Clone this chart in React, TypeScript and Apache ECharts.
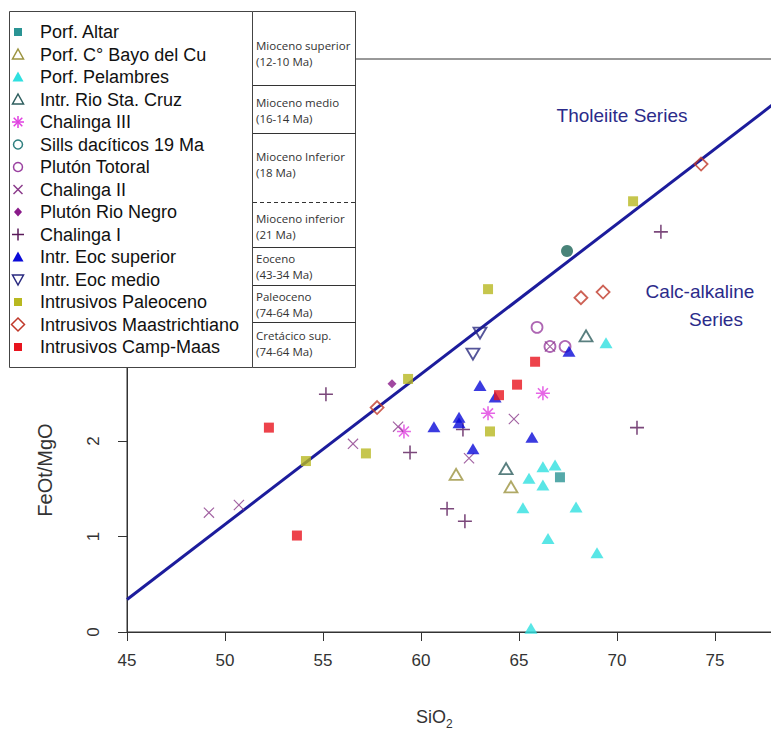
import React, { useEffect, useRef } from "react";
import * as echarts from "echarts";

// ---- data (SiO2 vs FeOt/MgO) ----
const altarX = [67.09];
const altarY = [1.62];
const bayoX = [61.79, 64.59];
const bayoY = [1.65, 1.52];
const pelambresX = [69.44, 66.22, 66.84, 65.51, 66.22, 65.2, 67.91, 66.48, 68.98, 65.61];
const pelambresY = [3.03, 1.73, 1.75, 1.61, 1.54, 1.3, 1.31, 0.98, 0.83, 0.04];
const staCruzX = [68.42, 64.34];
const staCruzY = [3.1, 1.71];
const chalinga3X = [66.22, 63.42, 59.13];
const chalinga3Y = [2.5, 2.29, 2.1];
const sillsX = [67.45];
const sillsY = [3.99];
const totoralX = [65.92, 66.58, 67.35];
const totoralY = [3.19, 2.99, 2.99];
const chalinga2X = [49.18, 50.71, 56.53, 58.83, 62.45, 64.74, 66.58];
const chalinga2Y = [1.25, 1.33, 1.97, 2.15, 1.82, 2.23, 2.99];
const rioNegroX = [58.52];
const rioNegroY = [2.6];
const chalinga1X = [55.15, 59.44, 62.14, 61.33, 62.24, 71.02, 72.24];
const chalinga1Y = [2.49, 1.88, 2.12, 1.29, 1.16, 2.14, 4.19];
const eocSupX = [63.01, 63.78, 60.66, 61.94, 61.94, 65.66, 62.65, 67.55];
const eocSupY = [2.58, 2.46, 2.15, 2.25, 2.19, 2.04, 1.92, 2.94];
const eocMedX = [63.01, 62.65];
const eocMedY = [3.13, 2.91];
const paleocenoX = [70.82, 63.42, 59.34, 57.19, 54.13, 63.52];
const paleocenoY = [4.51, 3.59, 2.65, 1.87, 1.79, 2.1];
const maastX = [74.29, 69.29, 68.16, 57.76];
const maastY = [4.9, 3.56, 3.5, 2.35];
const campMaasX = [52.24, 53.67, 63.98, 64.9, 65.82];
const campMaasY = [2.14, 1.01, 2.48, 2.59, 2.83];

// Tholeiite / calc-alkaline dividing line (end points)
const dividerX = [45, 78.5];
const dividerY = [0.34, 5.61];

const xTicks = [45, 50, 55, 60, 65, 70, 75];
const yTicks = [0, 1, 2, 3, 4, 5, 6];

const legendNames = [
  "Porf. Altar",
  "Porf. C° Bayo del Cu",
  "Porf. Pelambres",
  "Intr. Rio Sta. Cruz",
  "Chalinga III",
  "Sills dacíticos 19 Ma",
  "Plutón Totoral",
  "Chalinga II",
  "Plutón Rio Negro",
  "Chalinga I",
  "Intr. Eoc superior",
  "Intr. Eoc medio",
  "Intrusivos Paleoceno",
  "Intrusivos Maastrichtiano",
  "Intrusivos Camp-Maas",
];

const ageLabels = [
  ["Mioceno superior", "(12-10 Ma)"],
  ["Mioceno medio", "(16-14 Ma)"],
  ["Mioceno Inferior", "(18 Ma)"],
  ["Mioceno inferior", "(21 Ma)"],
  ["Eoceno", "(43-34 Ma)"],
  ["Paleoceno", "(74-64 Ma)"],
  ["Cretácico sup.", "(74-64 Ma)"],
];

const seriesX = [altarX, bayoX, pelambresX, staCruzX, chalinga3X, sillsX, totoralX, chalinga2X, rioNegroX, chalinga1X, eocSupX, eocMedX, paleocenoX, maastX, campMaasX];
const seriesY = [altarY, bayoY, pelambresY, staCruzY, chalinga3Y, sillsY, totoralY, chalinga2Y, rioNegroY, chalinga1Y, eocSupY, eocMedY, paleocenoY, maastY, campMaasY];

// ---- styles ----
const kinds = ["sq", "triO", "triF", "triO", "ast", "circF", "circO", "cross", "diaF", "plus", "triF", "triDownO", "sq", "diaO", "sq"];
const legendKinds = ["sq", "triO", "triF", "triO", "ast", "circO", "circO", "cross", "diaF", "plus", "triF", "triDownO", "sq", "diaO", "sq"];
const colors = ["#2a9494", "#9c9440", "#2fe0e0", "#2f5f5f", "#e040e0", "#1b6458", "#9a40a0", "#8a3a8a", "#8a1a8a", "#5a1a5a", "#0a0ad8", "#2a2a80", "#b8b820", "#c0392b", "#e8141e"];
const legendColors = ["#2a9494", "#9c9440", "#2fe0e0", "#2f5f5f", "#e040e0", "#2f7f7f", "#9a40a0", "#8a3a8a", "#8a1a8a", "#5a1a5a", "#0a0ad8", "#2a2a80", "#b8b820", "#c0392b", "#e8141e"];

const PLUS = "path://M1 9L19 9L19 11L1 11ZM9 1L11 1L11 19L9 19Z";
const AST = "path://M1 9L19 9L19 11L1 11ZM9 1L11 1L11 19L9 19ZM4.31 2.89L17.11 15.69L15.69 17.11L2.89 4.31ZM4.31 17.11L2.89 15.69L15.69 2.89L17.11 4.31Z";
const CROSS = "path://M1.71 0.29L19.71 18.29L18.29 19.71L0.29 1.71ZM1.71 19.71L0.29 18.29L18.29 0.29L19.71 1.71Z";

const FONT = '"Liberation Sans", Arial, sans-serif';
const TFONT = '"Open Sans", "Noto Sans", sans-serif';
const TXT = "#333";

function symbolFor(kind: string, color: string) {
  const open = { color: "rgba(255,255,255,0)", borderColor: color, borderWidth: 1.8 };
  switch (kind) {
    case "sq": return { symbol: "rect", symbolSize: 10, itemStyle: { color } };
    case "triO": return { symbol: "triangle", symbolSize: [13, 11], itemStyle: open };
    case "triF": return { symbol: "triangle", symbolSize: [13, 11], itemStyle: { color } };
    case "triDownO": return { symbol: "triangle", symbolRotate: 180, symbolSize: [13, 11], itemStyle: open };
    case "circO": return { symbol: "circle", symbolSize: 11, itemStyle: open };
    case "circF": return { symbol: "circle", symbolSize: 12, itemStyle: { color } };
    case "ast": return { symbol: AST, symbolSize: 14, itemStyle: { color } };
    case "plus": return { symbol: PLUS, symbolSize: 14, itemStyle: { color } };
    case "cross": return { symbol: CROSS, symbolSize: 11, itemStyle: { color } };
    case "diaF": return { symbol: "diamond", symbolSize: 9, itemStyle: { color } };
    case "diaO": return { symbol: "diamond", symbolSize: 13, itemStyle: open };
  }
  return { symbol: "circle", symbolSize: 10, itemStyle: { color } };
}

function legendSymbol(kind: string, color: string, cx: number, cy: number): any[] {
  const Z = 110;
  const stroke = { fill: "none", stroke: color, lineWidth: 1.5 };
  const ln = (x1: number, y1: number, x2: number, y2: number) => ({
    type: "line", z: Z, shape: { x1: cx + x1, y1: cy + y1, x2: cx + x2, y2: cy + y2 }, style: { stroke: color, lineWidth: 1.5 },
  });
  switch (kind) {
    case "sq": return [{ type: "rect", z: Z, shape: { x: cx - 4, y: cy - 4, width: 8, height: 8 }, style: { fill: color } }];
    case "triO": return [{ type: "polygon", z: Z, shape: { points: [[cx, cy - 5.5], [cx + 5.5, cy + 4.5], [cx - 5.5, cy + 4.5]] }, style: stroke }];
    case "triF": return [{ type: "polygon", z: Z, shape: { points: [[cx, cy - 5.5], [cx + 5.5, cy + 4.5], [cx - 5.5, cy + 4.5]] }, style: { fill: color } }];
    case "triDownO": return [{ type: "polygon", z: Z, shape: { points: [[cx - 5.5, cy - 4.5], [cx + 5.5, cy - 4.5], [cx, cy + 5.5]] }, style: stroke }];
    case "circO": return [{ type: "circle", z: Z, shape: { cx, cy, r: 4.5 }, style: stroke }];
    case "circF": return [{ type: "circle", z: Z, shape: { cx, cy, r: 5 }, style: { fill: color } }];
    case "ast": return [ln(-6, 0, 6, 0), ln(0, -6, 0, 6), ln(-4.3, -4.3, 4.3, 4.3), ln(-4.3, 4.3, 4.3, -4.3)];
    case "plus": return [ln(-6, 0, 6, 0), ln(0, -6, 0, 6)];
    case "cross": return [ln(-4.5, -4.5, 4.5, 4.5), ln(-4.5, 4.5, 4.5, -4.5)];
    case "diaF": return [{ type: "polygon", z: Z, shape: { points: [[cx, cy - 4.5], [cx + 4, cy], [cx, cy + 4.5], [cx - 4, cy]] }, style: { fill: color } }];
    case "diaO": return [{ type: "polygon", z: Z, shape: { points: [[cx, cy - 6.5], [cx + 6.5, cy], [cx, cy + 6.5], [cx - 6.5, cy]] }, style: stroke }];
  }
  return [];
}

function txt(text: string, x: number, y: number, size: number, color: string, align = "left", family = FONT, rotation = 0) {
  return {
    type: "text", z: 120, x, y, rotation,
    style: { text, fontSize: size, fontFamily: family, fill: color, textAlign: align, textVerticalAlign: "middle", align, verticalAlign: "middle" },
  };
}

function buildGraphic() {
  const g: any[] = [];
  // legend box
  g.push({ type: "rect", z: 100, shape: { x: 9.5, y: 11.5, width: 243, height: 356 }, style: { fill: "#fff", stroke: "#444", lineWidth: 1 } });
  // age table box
  g.push({ type: "rect", z: 100, shape: { x: 252.5, y: 11.5, width: 103, height: 356 }, style: { fill: "#fff", stroke: "#444", lineWidth: 1 } });
  const rowY = [45, 102, 156, 218, 258, 296, 335];
  const divs = [85, 133, 202, 247, 285, 322];
  divs.forEach((d, i) => {
    g.push({
      type: "line", z: 105, shape: { x1: 253, y1: d + 0.5, x2: 356, y2: d + 0.5 },
      style: { stroke: "#333", lineWidth: 1, lineDash: i === 2 ? [4, 3] : null },
    });
  });
  ageLabels.forEach((lab, i) => {
    const y0 = rowY[i];
    g.push(txt(lab[0], 256, y0, 11.5, "#333", "left", TFONT));
    g.push(txt(lab[1], 256, y0 + 16, 11.5, "#333", "left", TFONT));
  });
  legendNames.forEach((name, i) => {
    const cy = 32 + i * 22.5;
    g.push(...legendSymbol(legendKinds[i], legendColors[i], 18, cy));
    g.push(txt(name, 40, cy, 18, "#111"));
  });
  // annotations
  g.push(txt("Tholeiite Series", 622, 115, 19, "#2b2b8a", "center"));
  g.push(txt("Calc-alkaline", 700, 291, 19, "#2b2b8a", "center"));
  g.push(txt("Series", 716, 319, 19, "#2b2b8a", "center"));
  // axis names
  g.push(txt("FeOt/MgO", 45, 470, 20, TXT, "center", FONT, Math.PI / 2));
  g.push({ type: "text", z: 120, x: 446, y: 717, style: { text: "SiO", fontSize: 18, fontFamily: FONT, fill: TXT, textAlign: "right", align: "right", textVerticalAlign: "middle", verticalAlign: "middle" } });
  g.push({ type: "text", z: 120, x: 446, y: 724, style: { text: "2", fontSize: 12, fontFamily: FONT, fill: TXT, textAlign: "left", align: "left", textVerticalAlign: "middle", verticalAlign: "middle" } });
  return g;
}

function buildOption() {
  const scatter = legendNames.map((name, i) => ({
    type: "scatter",
    name,
    z: 3,
    data: seriesX[i].map((x, j) => [x, seriesY[i][j]]),
    ...symbolFor(kinds[i], colors[i]),
  }));
  return {
    animation: false,
    backgroundColor: "#fff",
    grid: { left: 127, top: 59, right: 16.4, bottom: 99, show: true, borderColor: "#333", borderWidth: 1, backgroundColor: "transparent" },
    xAxis: {
      type: "value", min: 45, max: 78.5, interval: 5,
      axisLine: { show: true, onZero: false, lineStyle: { color: "#333", width: 1 } },
      axisTick: { show: true, length: 9, lineStyle: { color: "#333" } },
      axisLabel: {
        show: true, margin: 20, fontSize: 17, fontFamily: FONT, color: TXT, showMaxLabel: false,
        formatter: (v: number) => (xTicks.indexOf(v) >= 0 ? String(v) : ""),
      },
      splitLine: { show: false },
    },
    yAxis: {
      type: "value", min: 0, max: 6, interval: 1,
      axisLine: { show: true, onZero: false, lineStyle: { color: "#333", width: 1 } },
      axisTick: { show: true, length: 9, lineStyle: { color: "#333" } },
      axisLabel: {
        show: true, rotate: 90, margin: 25, fontSize: 17, fontFamily: FONT, color: TXT,
        formatter: (v: number) => (yTicks.indexOf(v) >= 0 ? String(v) : ""),
      },
      splitLine: { show: false },
    },
    series: [
      {
        type: "line", name: "divider", z: 2, showSymbol: false, silent: true,
        data: dividerX.map((x, i) => [x, dividerY[i]]),
        lineStyle: { color: "#1c1c9c", width: 3 },
      },
      ...scatter,
    ],
    graphic: { elements: buildGraphic() },
  };
}

export default function App() {
  const ref = useRef<HTMLDivElement>(null);
  useEffect(() => {
    if (!ref.current) return;
    const chart = echarts.init(ref.current, null, { renderer: "svg" });
    chart.setOption(buildOption() as any);
    return () => chart.dispose();
  }, []);
  return (
    <div style={{ position: "fixed", left: 0, top: 0, width: 771, height: 731, overflow: "hidden", background: "#fff" }}>
      <div ref={ref} style={{ width: 800, height: 731 }} />
    </div>
  );
}
